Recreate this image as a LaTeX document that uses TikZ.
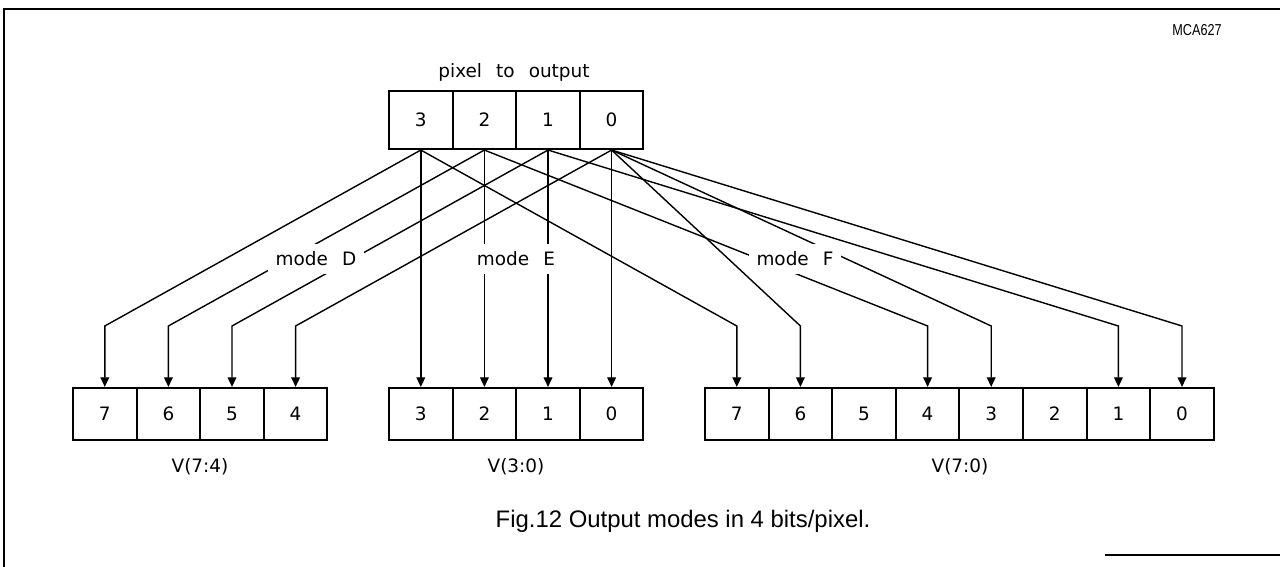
\documentclass[tikz,border=0pt]{standalone}
\usepackage{fontspec}
\setmainfont{Liberation Sans}
\newfontfamily\plotfont[WordSpace=2.4]{DejaVu Sans}
\newfontfamily\narrowfont[FakeStretch=0.8]{Liberation Sans}
\usetikzlibrary{arrows.meta,calc}
\begin{document}
\begin{tikzpicture}[x=0.02cm,y=-0.02cm,
  cell/.style={draw, line width=1.2pt, minimum width=1.272cm, minimum height=1.04cm,
    inner sep=0pt, font=\plotfont\fontsize{10.5}{12}\selectfont},
  topcell/.style={cell, minimum height=1.16cm},
  conn/.style={line width=0.8pt, -{Triangle[length=5.5pt,width=5pt]}},
  frame/.style={line width=0.9pt},
  lab/.style={font=\plotfont\fontsize{10.5}{12}\selectfont, inner sep=0pt},
  mlab/.style={lab, fill=white, inner xsep=4.5pt, inner ysep=4.5pt}]
\useasboundingbox (0,0) rectangle (1280,567);
% frame
\draw[frame] (4,567) -- (4,9) -- (1280,9);
\draw[frame] (1105,555) -- (1280,555);
\node[font=\narrowfont\fontsize{9}{10}\selectfont, inner sep=0pt] (code) at (1197,30) {MCA627};
% top register
\node[lab] (title) at (514,72) {pixel to output};
\node[topcell] (t3) at (420.8,120) {3};
\node[topcell] (t2) at (484.4,120) {2};
\node[topcell] (t1) at (548,120) {1};
\node[topcell] (t0) at (611.6,120) {0};
% V(7:4)
\node[cell] (d7) at (104.8,414) {7};
\node[cell] (d6) at (168.4,414) {6};
\node[cell] (d5) at (232,414) {5};
\node[cell] (d4) at (295.6,414) {4};
% V(3:0)
\node[cell] (e3) at (420.8,414) {3};
\node[cell] (e2) at (484.4,414) {2};
\node[cell] (e1) at (548,414) {1};
\node[cell] (e0) at (611.6,414) {0};
% V(7:0)
\node[cell] (f7) at (736.8,414) {7};
\node[cell] (f6) at (800.4,414) {6};
\node[cell] (f5) at (864,414) {5};
\node[cell] (f4) at (927.6,414) {4};
\node[cell] (f3) at (991.2,414) {3};
\node[cell] (f2) at (1054.8,414) {2};
\node[cell] (f1) at (1118.4,414) {1};
\node[cell] (f0) at (1182,414) {0};
\node[lab] (vd) at (200,467) {V(7:4)};
\node[lab] (ve) at (516,467) {V(3:0)};
\node[lab] (vf) at (960,467) {V(7:0)};
% connectors
\coordinate (kl) at (0,326);
\foreach \s/\t in {t3/d7,t2/d6,t1/d5,t0/d4,t3/f7,t0/f6,t2/f4,t0/f3,t1/f1,t0/f0}
  \draw[conn] (\s.south) -- (\t.north |- kl) -- (\t.north);
\foreach \s/\t in {t3/e3,t2/e2,t1/e1,t0/e0}
  \draw[conn] (\s.south) -- (\t.north);
% mode labels
\node[mlab] (mD) at (316,259) {mode D};
\node[mlab] (mE) at (516,259) {mode E};
\node[mlab] (mF) at (795,259) {mode F};
% caption
\node[font=\fontsize{13.6}{15}\selectfont, inner sep=0pt] (cap) at (683,521) {Fig.12 Output modes in 4 bits/pixel.};
\end{tikzpicture}
\end{document}
